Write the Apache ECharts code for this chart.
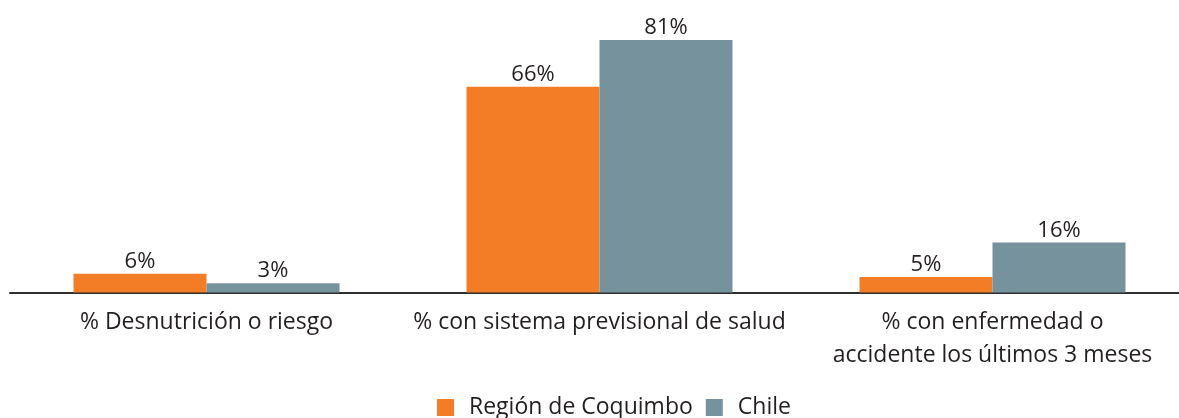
<!DOCTYPE html>
<html>
<head>
<meta charset="utf-8">
<script src="https://cdn.jsdelivr.net/npm/echarts@6/dist/echarts.min.js"></script>
<style>
  html, body { margin: 0; padding: 0; background: #fff; }
  #chart { width: 1179px; height: 418px; }
</style>
</head>
<body>
<div id="chart"></div>
<script>
  const categories = ['% Desnutrición o riesgo', '% con sistema previsional de salud', '% con enfermedad o\naccidente los últimos 3 meses'];
  const seriesNames = ['Región de Coquimbo', 'Chile'];
  const coquimbo = [6, 66, 5];
  const chile = [3, 81, 16];

  const textColor = '#231f20';
  const font = 'Open Sans';

  let chart = echarts.init(document.getElementById('chart'));

  let labelStyle = {
    show: true,
    position: 'top',
    distance: 1,
    color: textColor,
    fontFamily: font,
    fontSize: 22,
    formatter: '{c}%'
  };

  let option = {
    animation: false,
    grid: {
      left: 10,
      width: 1179,
      top: 40,
      bottom: 125.5,
      outerBoundsMode: 'none',
      containLabel: false
    },
    legend: {
      top: 396,
      left: 437,
      padding: 0,
      itemWidth: 17,
      itemHeight: 17,
      itemGap: 13,
      icon: 'rect',
      textStyle: { color: textColor, fontFamily: font, fontSize: 23, padding: [0, 0, 0, 10] },
      data: seriesNames
    },
    xAxis: {
      type: 'category',
      data: categories,
      axisLine: { lineStyle: { color: '#2e2e2e', width: 2 } },
      axisTick: { show: false },
      axisLabel: {
        color: textColor,
        fontFamily: font,
        fontSize: 23,
        lineHeight: 33,
        margin: 13,
        interval: 0
      }
    },
    yAxis: {
      type: 'value',
      min: 0,
      max: 81,
      show: false,
      splitLine: { show: false }
    },
    series: [
      {
        name: seriesNames[0],
        type: 'bar',
        data: coquimbo,
        barWidth: 133,
        barGap: '0%',
        itemStyle: { color: '#f37d26' },
        label: labelStyle
      },
      {
        name: seriesNames[1],
        type: 'bar',
        data: chile,
        barWidth: 133,
        barGap: '0%',
        itemStyle: { color: '#76929d' },
        label: labelStyle
      }
    ]
  };
  chart.setOption(option);
</script>
</body>
</html>
